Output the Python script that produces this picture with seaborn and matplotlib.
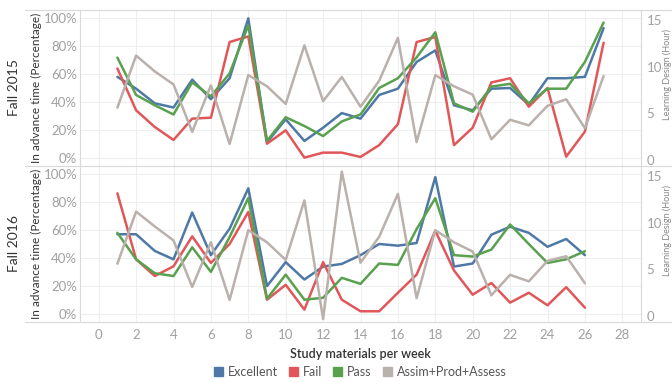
import matplotlib
matplotlib.use("Agg")
import matplotlib.pyplot as plt
from matplotlib.patches import Patch
import seaborn as sns
import pandas as pd

# --- données ---
weeks_2015 = [1, 2, 3, 4, 5, 6, 7, 8, 9, 10, 11, 12, 13, 14, 15, 16, 17, 18, 19, 20,
              21, 22, 23, 24, 25, 26, 27]
excellent_2015 = [58, 49.5, 39, 36, 56, 42, 57, 100, 11, 27.5, 12, 21.5, 32, 28, 45, 49.5,
                  68.7, 77, 37.6, 34, 49.5, 50, 38, 57, 57, 58, 93]
fail_2015 = [64, 34, 22, 12.7, 28, 28.7, 83, 87, 10, 19.6, 0, 3.6, 3.6, 0.5, 9, 24,
             83, 86.6, 9, 21.5, 54, 57, 36.6, 50, 0.7, 18.7, 82.5]
pass_2015 = [71.8, 45, 37.6, 31, 54, 44, 60.5, 95, 12, 29, 22.7, 15.5, 26, 31, 50, 57,
             72, 90, 39, 33, 51, 53, 39, 49.5, 49.5, 68.7, 97]
assim_2015 = [5.6, 11.2, 9.5, 8.1, 3.0, 8.0, 1.7, 9.1, 7.9, 6.0, 12.3, 6.3, 8.9, 5.7,
              8.5, 13.1, 1.9, 9.1, 7.9, 7.0, 2.2, 4.3, 3.7, 5.8, 6.5, 3.4, 9.0]

weeks_2016 = [1, 2, 3, 4, 5, 6, 7, 8, 9, 10, 11, 12, 13, 14, 15, 16, 17, 18, 19, 20,
              21, 22, 23, 24, 25, 26]
excellent_2016 = [57, 57, 45, 39, 72.6, 42, 61, 90, 19.8, 37, 24.5, 33.8, 35.7, 42, 50,
                  48.8, 50.7, 98, 33.8, 36, 56.7, 62.4, 58, 48, 53.6, 42]
fail_2016 = [86.4, 39, 27, 34, 55.5, 36.4, 50, 73, 10, 20.7, 2.9, 37, 10, 1.7, 1.7, 15,
             28, 59.5, 31, 13.6, 22, 7.9, 15, 6, 19, 4.3]
pass_2016 = [58, 39, 29, 27, 47.6, 30, 55, 83, 10.7, 28, 10, 11.4, 25.7, 21.4, 36, 35,
             60.7, 82.9, 42, 41, 46, 64, 50, 36.4, 39, 44.8]
assim_2016 = [5.6, 11.2, 9.6, 8.1, 3.1, 7.9, 1.7, 9.2, 7.9, 6.0, 12.4, -0.35, 15.5, 5.7,
              8.5, 13.1, 1.9, 9.2, 7.9, 6.9, 2.2, 4.4, 3.7, 5.9, 6.4, 3.5]

groups = ["Excellent", "Fail", "Pass"]
palette = {"Excellent": "#4e79a7", "Fail": "#e15759", "Pass": "#59a14f"}
gray = "#bab0ac"

sns.set_style("white")
plt.rcParams["font.family"] = ["Lato", "DejaVu Sans"]

W, H = 672, 382
fig = plt.figure(figsize=(W / 100, H / 100), dpi=100)

panels = [
    ("Fall 2015", 10, weeks_2015, [excellent_2015, fail_2015, pass_2015], assim_2015),
    ("Fall 2016", 166, weeks_2016, [excellent_2016, fail_2016, pass_2016], assim_2016),
]

left, right = 80, 641
for i, (name, top, weeks, series, assim) in enumerate(panels):
    ax = fig.add_axes([left / W, 1 - (top + 156) / H, (right - left) / W, 156 / H])
    df = pd.concat([pd.DataFrame({"week": weeks, "pct": vals, "group": g})
                    for g, vals in zip(groups, series)])
    sns.lineplot(data=df, x="week", y="pct", hue="group", palette=palette,
                 linewidth=1.8, ax=ax, legend=False)
    ax.set_xlim(-1, 29)
    ax.set_ylim(-6, 106)
    ax.set_xticks(range(0, 29, 2))
    ax.set_yticks([0, 20, 40, 60, 80, 100])
    ax.set_yticklabels([f"{v}%" for v in [0, 20, 40, 60, 80, 100]])
    ax.grid(True, color="#efefef", lw=0.8)
    ax.axhline(0, color="#cfcfcf", ls=(0, (1, 2)), lw=0.8, zorder=0)
    ax.set_xlabel("")
    ax.set_ylabel("")
    ax.tick_params(length=0, labelsize=9.5, labelcolor="#a0a0a0", pad=2)
    if i == 0:
        ax.tick_params(labelbottom=False)
    else:
        ax.tick_params(axis="x", pad=5)
    for s in ["top", "bottom"]:
        ax.spines[s].set_visible(False)
    for s in ["left", "right"]:
        ax.spines[s].set_color("#d9d9d9")

    ax2 = ax.twinx()
    sns.lineplot(x=weeks, y=assim, color=gray, linewidth=1.8, ax=ax2)
    ax2.set_ylim(-0.67, 16.1)
    ax2.set_yticks([0, 5, 10, 15])
    ax2.tick_params(length=0, labelsize=9.5, labelcolor="#a0a0a0", pad=4)
    for s in ax2.spines.values():
        s.set_visible(False)

    cy = 1 - (top + 78) / H
    fig.text(14 / W, cy, name, rotation=90, ha="center", va="center",
             fontsize=10, color="#333333")
    fig.text(36 / W, cy, "In advance time (Percentage)", rotation=90, ha="center",
             va="center", fontsize=8.5, color="#333333")
    fig.text(667.5 / W, 1 - (top + 65) / H, "Learning Design (Hour)", rotation=90,
             ha="center", va="center", fontsize=6.5, color="#888888")

# lignes de séparation façon Tableau
for y in [10, 166, 322]:
    fig.add_artist(plt.Line2D([25 / W, 1], [1 - y / H, 1 - y / H],
                              color="#d9d9d9", lw=0.8))

fig.text((left + right) / 2 / W, 1 - 354 / H, "Study materials per week",
         ha="center", va="center", fontsize=9, fontweight="semibold", color="#333333")

handles = [Patch(color=palette[g], label=g) for g in groups] + \
          [Patch(color=gray, label="Assim+Prod+Assess")]
leg = fig.legend(handles=handles, loc="center", bbox_to_anchor=(360 / W, 1 - 372 / H),
                 ncol=4, frameon=False, fontsize=9, handlelength=0.7, handleheight=0.7,
                 handletextpad=0.4, columnspacing=0.9, borderaxespad=0)
for t in leg.get_texts():
    t.set_color("#555555")

fig.savefig("out.png", dpi=100)
